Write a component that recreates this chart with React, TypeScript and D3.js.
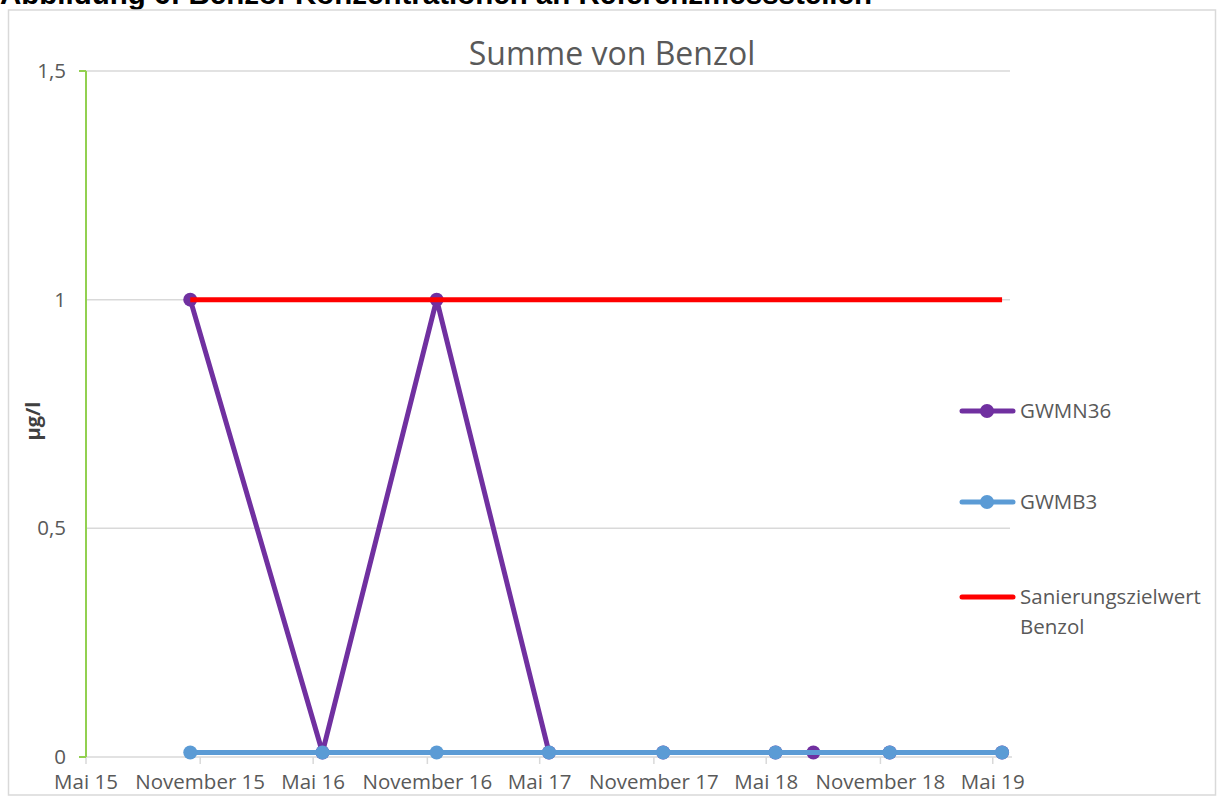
import * as d3 from 'd3';

const seriesNames = ['GWMN36', 'GWMB3'];
const sampleDates = [
  '2015-10-16', '2016-05-16', '2016-11-16', '2017-05-16', '2017-11-16',
  '2018-05-16', '2018-07-16', '2018-11-16', '2019-05-16',
];
const gwmn36 = [1, 0.01, 1, 0.01, 0.01, 0.01, 0.01, 0.01, 0.01];
const gwmb3 = [0.01, 0.01, 0.01, 0.01, 0.01, 0.01, null, 0.01, 0.01];
const targetName = 'Sanierungszielwert';
const targetName2 = 'Benzol';
const targetDates = ['2015-10-16', '2019-05-16'];
const targetValues = [1, 1];
const yTicks = [0, 0.5, 1, 1.5];
const yTickLabels = ['0', '0,5', '1', '1,5'];
const xDomain = ['2015-05-01', '2019-06-01'];
const xTickRange = ['2015-05-01', '2019-05-02'];
const monthsDe = ['Januar', 'Februar', 'März', 'April', 'Mai', 'Juni', 'Juli', 'August', 'September', 'Oktober', 'November', 'Dezember'];

const W = 1217;
const H = 796;
const font = '"Open Sans", "Noto Sans", sans-serif';
const grey = '#595959';
const grid = '#d9d9d9';
const fs = 20.5;

const parse = (s: string) => d3.timeParse('%Y-%m-%d')(s) as Date;
const de = d3.timeFormatLocale({
  dateTime: '%A, %e. %B %Y, %X',
  date: '%d.%m.%Y',
  time: '%H:%M:%S',
  periods: ['AM', 'PM'],
  days: ['Sonntag', 'Montag', 'Dienstag', 'Mittwoch', 'Donnerstag', 'Freitag', 'Samstag'],
  shortDays: ['So', 'Mo', 'Di', 'Mi', 'Do', 'Fr', 'Sa'],
  months: monthsDe,
  shortMonths: monthsDe.map((m) => m.slice(0, 3)),
});
const fmt = de.format('%B %y');

export default function App() {
  const x = d3.scaleTime().domain(xDomain.map(parse)).range([86, 1012]);
  const y = d3.scaleLinear().domain([0, 1.5]).range([757, 71]);
  const xTicks = d3.timeMonth.range(parse(xTickRange[0]), parse(xTickRange[1]), 6);

  const line = d3
    .line<[string, number]>()
    .x((d) => x(parse(d[0])))
    .y((d) => y(d[1]));

  const series = [
    { name: seriesNames[0], color: '#7030a0', values: gwmn36 },
    { name: seriesNames[1], color: '#5b9bd5', values: gwmb3 },
  ];

  const legendY = [411, 502, 597];

  return (
    <svg width={W} height={H} style={{ position: 'absolute', left: 0, top: 0 }}>
      <rect x={0} y={0} width={W} height={H} fill="#fff" />
      <text x={0} y={4} fontFamily="'Liberation Sans', Arial, sans-serif" fontWeight="bold" fontSize={29.5} fill="#000">
        Abbildung 6: Benzol-Konzentrationen an Referenzmessstellen
      </text>
      <rect x={8.5} y={10} width={1207} height={785} fill="none" stroke={grid} strokeWidth={1.5} />

      <text x={612} y={65} textAnchor="middle" fontFamily={font} fontSize={32} fill={grey}>
        Summe von Benzol
      </text>

      {yTicks.slice(1).map((t) => (
        <line key={t} x1={86} x2={1010} y1={y(t)} y2={y(t)} stroke={grid} strokeWidth={1.5} />
      ))}
      <line x1={86} x2={1012} y1={y(0)} y2={y(0)} stroke={grid} strokeWidth={1.5} />
      {xTicks.map((t) => (
        <g key={t.getTime()}>
          <line x1={x(t)} x2={x(t)} y1={757} y2={764} stroke={grid} strokeWidth={1.5} />
          <text x={x(t)} y={789} textAnchor="middle" fontFamily={font} fontSize={fs} fill={grey}>
            {fmt(t)}
          </text>
        </g>
      ))}

      <line x1={86} x2={86} y1={71} y2={757} stroke="#92d050" strokeWidth={2} />
      <line x1={79} x2={86} y1={71} y2={71} stroke="#92d050" strokeWidth={2} />
      <line x1={79} x2={86} y1={757} y2={757} stroke="#92d050" strokeWidth={2} />
      {yTicks.map((t, i) => (
        <text key={t} x={66} y={y(t) + 7} textAnchor="end" fontFamily={font} fontSize={fs} fill={grey}>
          {yTickLabels[i]}
        </text>
      ))}
      <text
        transform="translate(40,421) rotate(-90)"
        textAnchor="middle"
        fontFamily={font}
        fontWeight="bold"
        fontSize={20}
        fill="#404040"
      >
        µg/l
      </text>

      {series.map((s) => {
        const pts = sampleDates
          .map((d, i) => [d, s.values[i]] as [string, number | null])
          .filter((p) => p[1] != null) as [string, number][];
        return (
          <g key={s.name}>
            <path d={line(pts) || ''} fill="none" stroke={s.color} strokeWidth={5} strokeLinejoin="round" />
            {pts.map((p) => (
              <circle key={p[0]} cx={x(parse(p[0]))} cy={y(p[1])} r={7} fill={s.color} />
            ))}
          </g>
        );
      })}

      <path
        d={line(targetDates.map((d, i) => [d, targetValues[i]] as [string, number])) || ''}
        fill="none"
        stroke="#ff0000"
        strokeWidth={5}
      />

      {series.map((s, i) => (
        <g key={s.name}>
          <line x1={962} x2={1013} y1={legendY[i]} y2={legendY[i]} stroke={s.color} strokeWidth={5} strokeLinecap="round" />
          <circle cx={987} cy={legendY[i]} r={7} fill={s.color} />
          <text x={1020} y={legendY[i] + 7} fontFamily={font} fontSize={fs} fill={grey}>
            {s.name}
          </text>
        </g>
      ))}
      <line x1={962} x2={1013} y1={legendY[2]} y2={legendY[2]} stroke="#ff0000" strokeWidth={5} strokeLinecap="round" />
      <text x={1020} y={legendY[2] + 7} fontFamily={font} fontSize={fs} fill={grey}>
        {targetName}
      </text>
      <text x={1020} y={legendY[2] + 37} fontFamily={font} fontSize={fs} fill={grey}>
        {targetName2}
      </text>
    </svg>
  );
}
